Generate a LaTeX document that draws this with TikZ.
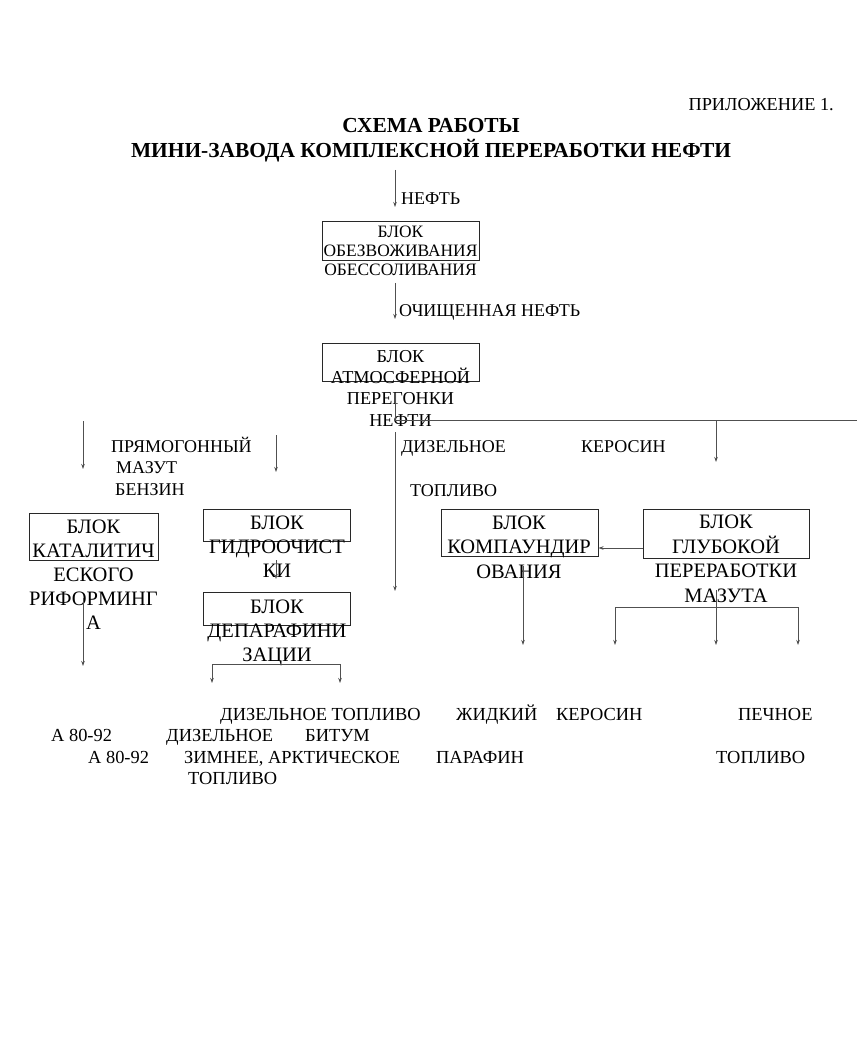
\documentclass[tikz,border=0pt]{standalone}
\usepackage{fontspec}
\setmainfont{Liberation Serif}
\usetikzlibrary{arrows.meta, positioning, calc}
\definecolor{lineg}{RGB}{80,80,80}
\definecolor{boxline}{RGB}{40,40,40}
\tikzset{
  blk/.style={rectangle, draw=boxline, line width=0.9pt, inner sep=0pt},
  btext/.style={align=center, inner sep=0pt, anchor=base},
  lbl/.style={anchor=base west, inner sep=0pt},
  outlbl/.style={anchor=base west, inner sep=0pt, font=\fontsize{18.4}{21}\selectfont},
  arrow/.style={-{Stealth[length=5pt, width=3.5pt]}, color=lineg, line width=0.8pt},
  twoarrow/.style={{Stealth[length=5pt, width=3.5pt]}-{Stealth[length=5pt, width=3.5pt]}, color=lineg, line width=0.8pt},
  line/.style={color=lineg, line width=0.8pt}
}
\begin{document}
\begin{tikzpicture}[x=1pt, y=-1pt, font=\fontsize{18}{21}\selectfont]
  \fill[white] (0,0) rectangle (857,1064);

  % Header
  \node[anchor=base east, inner sep=0pt, font=\fontsize{18.3}{21}\selectfont] (app) at (834,110.5) {ПРИЛОЖЕНИЕ 1.};
  \node[btext, font=\bfseries\fontsize{21.4}{25}\selectfont] (title) at (431,158) {СХЕМА РАБОТЫ\\МИНИ-ЗАВОДА КОМПЛЕКСНОЙ ПЕРЕРАБОТКИ НЕФТИ};

  % Blocks (the text runs out of the frames)
  \node[blk, minimum width=157, minimum height=39] (obezv) at (400.5,240.5) {};
  \node[btext, font=\fontsize{17.4}{19}\selectfont] (obezvtxt) at (400.5,276) {БЛОК\\ОБЕЗВОЖИВАНИЯ\\ОБЕССОЛИВАНИЯ};
  \node[blk, minimum width=157, minimum height=38] (atm) at (400.5,362) {};
  \node[btext, font=\fontsize{18.2}{21.3}\selectfont] (atmtxt) at (400.5,426) {БЛОК\\АТМОСФЕРНОЙ\\ПЕРЕГОНКИ\\НЕФТИ};

  \node[blk, minimum width=129, minimum height=47] (katal) at (93.5,536.5) {};
  \node[btext, font=\fontsize{20.5}{24}\selectfont] (kataltxt) at (93.5,629) {БЛОК\\КАТАЛИТИЧ\\ЕСКОГО\\РИФОРМИНГ\\А};
  \node[blk, minimum width=147, minimum height=32] (gidro) at (276.5,525) {};
  \node[btext, font=\fontsize{20.5}{24}\selectfont] (gidrotxt) at (277,577) {БЛОК\\ГИДРООЧИСТ\\КИ};
  \node[blk, minimum width=147, minimum height=33] (depar) at (276.5,608.5) {};
  \node[btext, font=\fontsize{20.5}{24}\selectfont] (departxt) at (277,661) {БЛОК\\ДЕПАРАФИНИ\\ЗАЦИИ};
  \node[blk, minimum width=157, minimum height=47] (komp) at (519.5,532.5) {};
  \node[btext, font=\fontsize{20.5}{24.5}\selectfont] (komptxt) at (519,578) {БЛОК\\КОМПАУНДИР\\ОВАНИЯ};
  \node[blk, minimum width=166, minimum height=49] (glub) at (726,533.5) {};
  \node[btext, font=\fontsize{20.5}{24.5}\selectfont] (glubtxt) at (726,602) {БЛОК\\ГЛУБОКОЙ\\ПЕРЕРАБОТКИ\\МАЗУТА};

  % Stream labels
  \node[lbl] (neft) at (401,205) {НЕФТЬ};
  \node[lbl] (ochneft) at (399,316) {ОЧИЩЕННАЯ НЕФТЬ};
  \node[lbl] (pryam) at (111,452) {ПРЯМОГОННЫЙ};
  \node[lbl] (mazut) at (116,473) {МАЗУТ};
  \node[lbl] (benzin) at (115,495) {БЕНЗИН};
  \node[lbl] (dizel) at (401,452) {ДИЗЕЛЬНОЕ};
  \node[lbl] (toplivo) at (410,496) {ТОПЛИВО};
  \node[lbl] (kerosin) at (581,452) {КЕРОСИН};

  % Products
  \node[outlbl] (pdt) at (220,720.5) {ДИЗЕЛЬНОЕ ТОПЛИВО};
  \node[outlbl] (pzhid) at (456,720.5) {ЖИДКИЙ};
  \node[outlbl] (pker) at (556,720.5) {КЕРОСИН};
  \node[outlbl] (ppech) at (738,720.5) {ПЕЧНОЕ};
  \node[outlbl] (pa1) at (51,741.5) {А 80-92};
  \node[outlbl] (pdiz) at (166,741.5) {ДИЗЕЛЬНОЕ};
  \node[outlbl] (pbit) at (305,741.5) {БИТУМ};
  \node[outlbl] (pa2) at (88,763.5) {А 80-92};
  \node[outlbl] (pzim) at (184,763.5) {ЗИМНЕЕ, АРКТИЧЕСКОЕ};
  \node[outlbl] (ppar) at (436,763.5) {ПАРАФИН};
  \node[outlbl] (ptop) at (716,763.5) {ТОПЛИВО};
  \node[outlbl] (ptop2) at (188,784.5) {ТОПЛИВО};

  % Connector ends
  \coordinate (in) at (395,170);
  \coordinate (inend) at (395,207);
  \coordinate (och) at (395,283);
  \coordinate (ochend) at (395,319);
  \coordinate (atmout) at (395,393);
  \coordinate (bus) at (395,420);
  \coordinate (busend) at (857,420);
  \coordinate (kerend) at (716,462);
  \coordinate (dzs) at (395,432);
  \coordinate (dze) at (395,591);
  \coordinate (bzs) at (83,421);
  \coordinate (bze) at (83,469);
  \coordinate (mzs) at (276,435);
  \coordinate (mze) at (276,472);
  \coordinate (gds) at (276,560);
  \coordinate (gde) at (276,579);
  \coordinate (kts) at (83,598);
  \coordinate (kte) at (83,666);
  \coordinate (dpl) at (212,683);
  \coordinate (dpr) at (340,683);
  \coordinate (dptop) at (276,664);
  \coordinate (kps) at (523,566);
  \coordinate (kpe) at (523,645);
  \coordinate (gls) at (716,590);
  \coordinate (gle) at (716,645);
  \coordinate (gll) at (615,645);
  \coordinate (glr) at (798,645);
  \coordinate (gltop) at (716,607);

  % Arrows
  \draw[arrow] (in) -- (inend);
  \draw[arrow] (och) -- (ochend);
  \draw[line] (atmout) -- (bus) -- (busend);
  \draw[arrow] (bus -| kerend) -- (kerend);
  \draw[arrow] (dzs) -- (dze);
  \draw[arrow] (bzs) -- (bze);
  \draw[arrow] (mzs) -- (mze);
  \draw[arrow] (gds) -- (gde);
  \draw[arrow] (glub.west |- 0,548) -- (komp.east |- 0,548);
  \draw[arrow] (kts) -- (kte);
  \draw[twoarrow] (dpl) -- (dpl |- dptop) -- (dpr |- dptop) -- (dpr);
  \draw[arrow] (kps) -- (kpe);
  \draw[arrow] (gls) -- (gle);
  \draw[twoarrow] (gll) -- (gll |- gltop) -- (glr |- gltop) -- (glr);
\end{tikzpicture}
\end{document}
